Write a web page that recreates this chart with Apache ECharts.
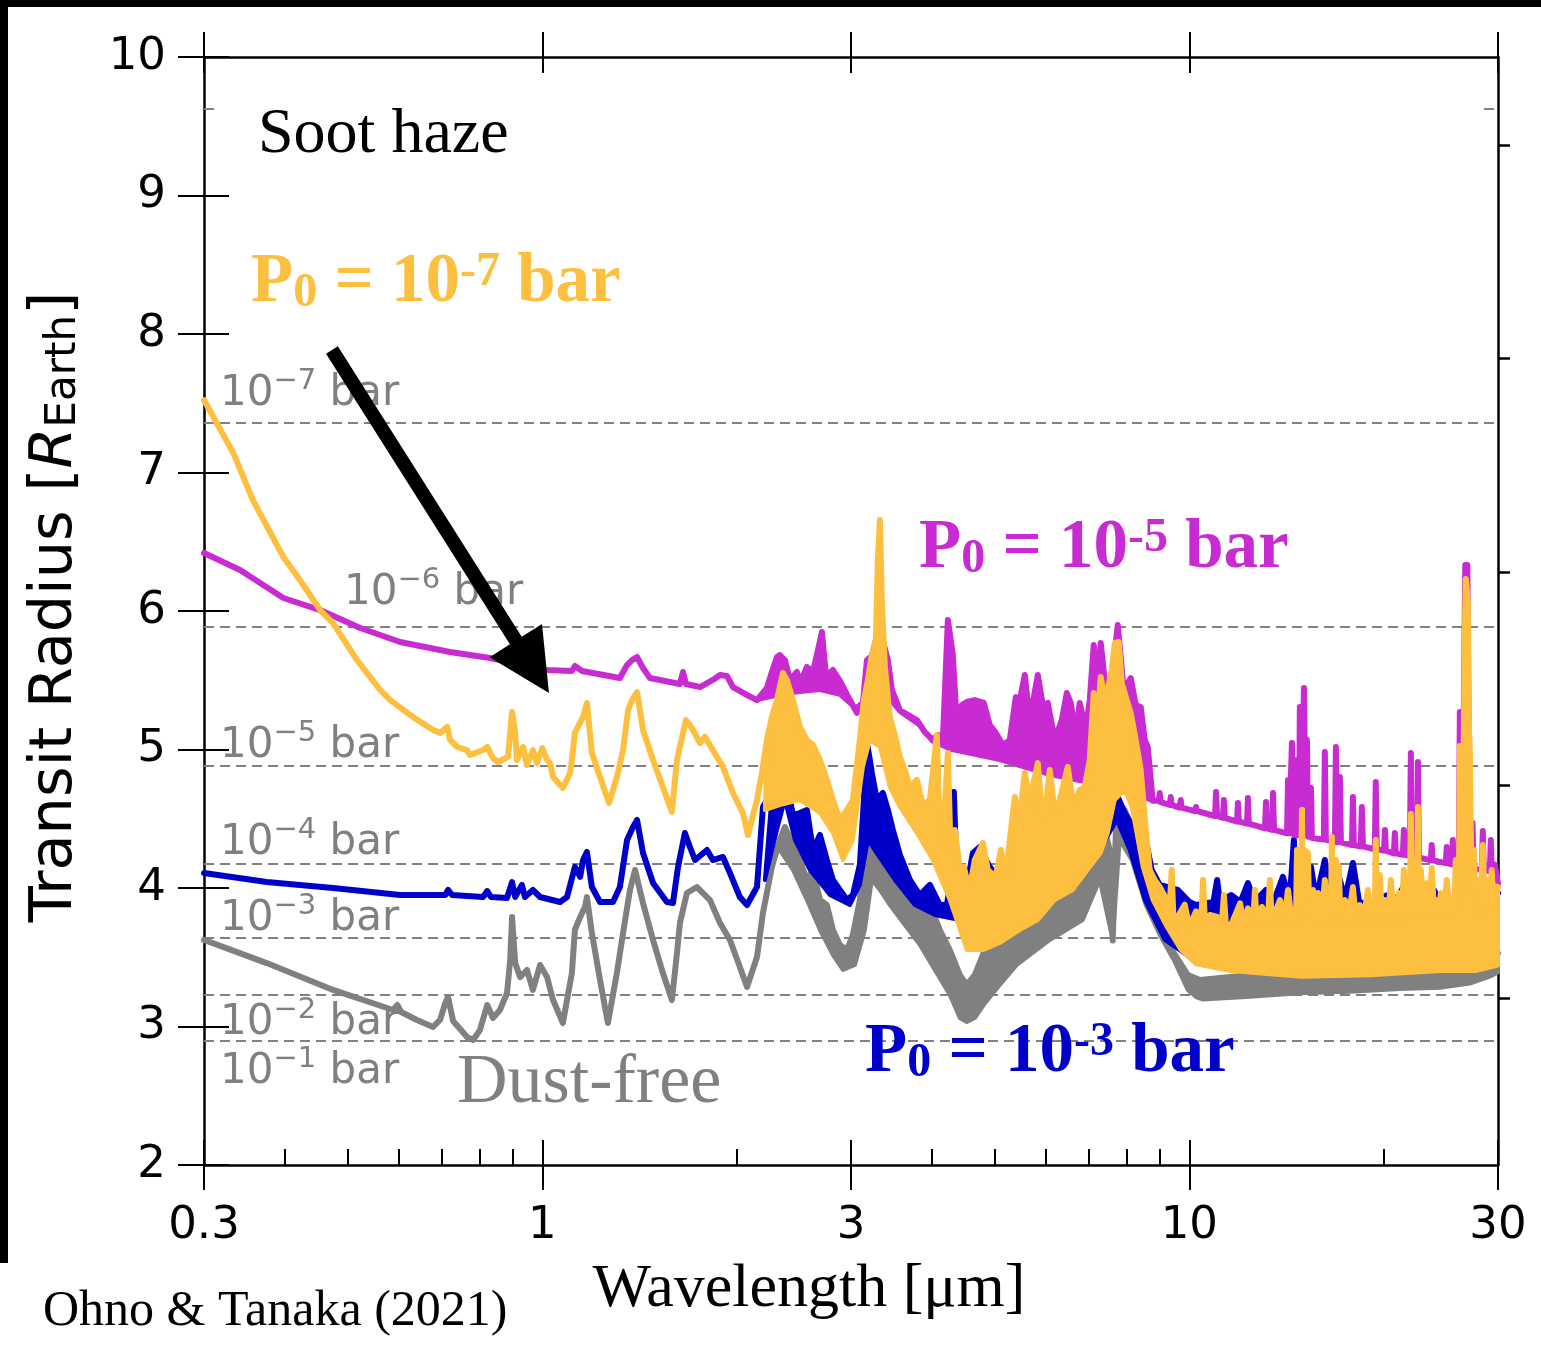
<!DOCTYPE html>
<html>
<head>
<meta charset="utf-8">
<script src="https://cdn.jsdelivr.net/npm/echarts@6/dist/echarts.min.js"></script>
<style>
  html, body { margin: 0; padding: 0; background: #fff; }
  #chart { width: 1541px; height: 1346px; }
</style>
</head>
<body>
<div id="chart"></div>
<script>
// ---- axis ticks ----
const xMajorTicks = [0.3, 1, 3, 10, 30];
const xMajorLabels = ['0.3', '1', '3', '10', '30'];
const xMinorTicks = [0.4, 0.5, 0.6, 0.7, 0.8, 0.9, 2, 4, 5, 6, 7, 8, 9, 20];
const yRange = [2, 10];
// right-hand axis: 2, 3, 4, 5, 6 x 10^4 km expressed in Earth radii
const rightTicks = [3.201, 4.739, 6.278, 7.827, 9.360];

// ---- transit radius reached at each atmospheric pressure ----
const pressureRadius = [9.625, 7.357, 5.885, 4.881, 4.173, 3.639, 3.227, 2.895];
const pressureExp = ['−8', '−7', '−6', '−5', '−4', '−3', '−2', '−1'];

// ---- spectra: [wavelength (um), transit radius (R_Earth)] ----
// Dust-free atmosphere
const dustFree = [[0.300,3.625],[0.375,3.458],[0.475,3.264],[0.588,3.119],[0.597,3.155],[0.605,3.105],[0.640,3.047],[0.678,2.997],[0.695,3.047],[0.708,3.169],[0.715,3.213],[0.728,3.040],[0.765,2.924],[0.782,2.903],[0.801,2.975],[0.822,3.155],[0.839,3.062],[0.860,3.119],[0.882,3.242],[0.892,3.480],[0.898,3.790],[0.908,3.458],[0.924,3.357],[0.947,3.408],[0.967,3.264],[0.992,3.444],[1.017,3.357],[1.039,3.191],[1.076,3.025],[1.111,3.386],[1.123,3.697],[1.144,3.790],[1.164,3.862],[1.172,3.934],[1.193,3.675],[1.228,3.336],[1.263,3.025],[1.304,3.386],[1.333,3.675],[1.366,3.985],[1.391,4.130],[1.431,3.891],[1.483,3.625],[1.536,3.386],[1.586,3.191],[1.615,3.531],[1.632,3.747],[1.673,3.964],[1.734,4.007],[1.816,3.913],[1.882,3.747],[1.950,3.625],[2.020,3.430],[2.072,3.285],[2.147,3.502],[2.193,3.820],[2.264,4.152],[2.329,4.347],[2.371,4.440],[2.440,4.310],[2.501,4.202],[2.564,4.058],[2.620,4.130],[2.686,3.913],[2.753,3.877],[2.813,3.697],[2.884,3.588],[2.957,3.552],[3.020,3.661],[3.096,3.913],[3.152,4.202],[3.208,4.347],[3.289,4.469],[3.360,4.419],[3.445,4.274],[3.570,4.202],[3.699,4.058],[3.833,3.913],[3.972,3.877],[4.115,3.697],[4.264,3.552],[4.419,3.372],[4.531,3.300],[4.661,3.372],[4.830,3.552],[5.094,3.661],[5.470,3.769],[5.873,3.877],[6.306,3.913],[6.771,3.986],[7.143,4.202],[7.401,4.419],[7.534,4.274],[7.615,3.621],[7.724,4.635],[7.947,4.563],[8.147,4.441],[8.353,4.253],[8.564,4.007],[9.000,3.769],[9.460,3.531],[9.944,3.372],[10.39,3.336],[12.41,3.372],[14.82,3.408],[17.71,3.444],[21.15,3.480],[25.27,3.528],[28.12,3.552],[30.0,3.528]];
const dustFreeFloor = [[2.329,4.274],[2.440,4.130],[2.564,3.913],[2.686,3.697],[2.813,3.516],[2.915,3.408],[3.042,3.444],[3.152,3.697],[3.231,4.058],[3.325,3.986],[3.445,3.877],[3.634,3.733],[3.833,3.589],[4.043,3.408],[4.264,3.227],[4.419,3.061],[4.531,3.032],[4.661,3.061],[4.830,3.167],[5.094,3.300],[5.412,3.444],[6.086,3.625],[6.844,3.769],[7.271,4.058],[7.615,3.621],[7.807,4.347],[8.147,4.202],[8.564,3.877],[9.000,3.661],[9.460,3.480],[9.944,3.264],[10.24,3.213],[10.50,3.195],[12.41,3.215],[14.82,3.240],[17.71,3.250],[21.15,3.270],[24.39,3.280],[27.13,3.310],[29.13,3.360],[30.0,3.390]];

// Soot haze produced at P0 = 1e-3 bar
const hazeP3 = [[0.300,4.108],[0.375,4.043],[0.475,4.000],[0.603,3.950],[0.708,3.950],[0.715,3.986],[0.725,3.950],[0.810,3.935],[0.822,3.978],[0.833,3.935],[0.882,3.928],[0.898,4.043],[0.908,3.935],[0.930,4.022],[0.940,3.935],[0.967,3.986],[0.992,3.935],[1.065,3.899],[1.092,3.935],[1.123,4.152],[1.144,4.080],[1.156,4.202],[1.172,4.260],[1.193,4.007],[1.228,3.899],[1.286,3.899],[1.318,4.007],[1.352,4.347],[1.381,4.441],[1.401,4.491],[1.431,4.253],[1.483,4.036],[1.558,3.899],[1.592,3.892],[1.621,4.152],[1.661,4.397],[1.691,4.296],[1.722,4.202],[1.797,4.274],[1.835,4.202],[1.902,4.224],[1.950,4.108],[2.020,3.935],[2.072,3.877],[2.147,4.007],[2.193,4.585],[2.264,4.686],[2.305,4.830],[2.354,4.996],[2.397,4.708],[2.440,4.527],[2.501,4.541],[2.564,4.563],[2.620,4.274],[2.686,4.383],[2.753,4.202],[2.813,4.058],[2.884,3.986],[2.957,3.913],[3.020,3.949],[3.096,4.166],[3.141,4.635],[3.175,5.047],[3.208,4.924],[3.231,4.830],[3.289,4.635],[3.360,4.686],[3.421,4.563],[3.482,4.419],[3.570,4.239],[3.699,4.058],[3.833,3.949],[3.972,4.022],[4.115,3.877],[4.220,3.877],[4.280,4.058],[4.326,4.694],[4.372,4.058],[4.466,3.913],[4.579,4.130],[4.628,4.253],[4.745,4.296],[4.847,4.202],[4.916,4.152],[5.094,4.058],[5.279,3.986],[5.549,3.949],[5.832,4.058],[6.195,4.022],[6.676,4.022],[7.017,4.274],[7.117,4.397],[7.401,4.563],[7.669,4.708],[7.947,4.541],[8.235,4.419],[8.564,4.347],[8.748,4.130],[9.000,4.022],[9.596,3.986],[10.00,3.900],[10.24,3.877],[10.90,3.900],[11.04,4.058],[11.15,3.900],[11.60,3.949],[12.00,3.900],[12.32,4.036],[12.60,3.900],[13.14,3.986],[13.50,3.900],[13.95,4.080],[14.30,3.920],[14.51,4.347],[14.62,3.920],[14.82,4.130],[15.10,3.920],[15.42,4.152],[15.70,3.920],[16.20,4.202],[16.50,3.920],[17.09,4.058],[17.40,3.920],[17.90,4.181],[18.30,3.900],[19.08,3.877],[19.60,3.920],[20.27,3.949],[20.90,3.920],[21.61,4.036],[22.10,3.920],[22.71,3.949],[23.30,3.920],[23.87,3.986],[24.50,3.880],[25.09,3.841],[25.60,3.920],[26.19,3.949],[27.00,3.900],[27.72,3.913],[29.00,3.920],[30.0,3.964]];
const hazeP3Floor = [[2.208,4.058],[2.305,4.419],[2.371,4.635],[2.457,4.347],[2.592,4.130],[2.783,3.949],[2.988,3.877],[3.096,4.022],[3.186,4.347],[3.301,4.239],[3.507,4.058],[3.765,3.877],[4.043,3.805],[4.419,3.769],[4.916,3.827],[5.470,3.877],[6.086,3.913],[6.771,4.058],[7.271,4.274],[7.724,4.491],[8.089,4.274],[8.533,3.913],[9.162,3.625],[10.02,3.500],[11.15,3.480],[14.82,3.480],[21.15,3.480],[30.0,3.500]];

// Soot haze produced at P0 = 1e-5 bar
const hazeP5 = [[0.300,6.419],[0.341,6.296],[0.398,6.094],[0.4535,6.007],[0.523,5.877],[0.603,5.776],[0.720,5.704],[0.830,5.661],[1.017,5.574],[1.111,5.567],[1.123,5.603],[1.152,5.567],[1.318,5.516],[1.352,5.610],[1.376,5.646],[1.401,5.668],[1.431,5.588],[1.467,5.516],[1.632,5.473],[1.650,5.560],[1.667,5.473],[1.753,5.451],[1.835,5.502],[1.882,5.538],[1.929,5.531],[1.971,5.451],[2.057,5.401],[2.147,5.357],[2.224,5.444],[2.264,5.560],[2.305,5.668],[2.329,5.682],[2.371,5.646],[2.414,5.502],[2.475,5.560],[2.501,5.473],[2.564,5.596],[2.620,5.560],[2.667,5.718],[2.705,5.848],[2.744,5.531],[2.813,5.574],[2.884,5.495],[2.988,5.357],[3.064,5.265],[3.130,5.336],[3.175,5.646],[3.231,5.675],[3.278,5.791],[3.325,5.884],[3.372,5.754],[3.421,5.646],[3.470,5.430],[3.570,5.285],[3.699,5.242],[3.792,5.213],[3.902,5.126],[4.014,5.069],[4.087,5.105],[4.160,5.069],[4.235,5.935],[4.310,5.682],[4.388,5.069],[4.450,5.321],[4.531,5.343],[4.661,5.357],[4.813,5.336],[4.916,5.177],[5.023,5.120],[5.149,5.032],[5.279,5.069],[5.393,5.379],[5.470,5.357],[5.568,5.538],[5.668,5.213],[5.832,5.538],[5.937,5.321],[6.043,5.336],[6.195,5.069],[6.352,5.213],[6.466,5.408],[6.558,5.336],[6.676,5.105],[6.771,5.336],[6.918,5.141],[7.017,5.357],[7.117,5.754],[7.220,5.430],[7.297,5.769],[7.428,5.430],[7.588,5.502],[7.752,5.899],[7.919,5.430],[8.118,5.516],[8.264,5.321],[8.412,5.307],[8.533,5.069],[8.625,5.018],[8.779,4.630],[8.970,4.630],[9.000,4.686],[9.030,4.620],[9.330,4.600],[9.360,4.657],[9.390,4.600],[9.660,4.580],[9.700,4.635],[9.730,4.580],[10.20,4.555],[10.24,4.585],[10.28,4.555],[10.96,4.520],[11.00,4.693],[11.04,4.520],[11.27,4.507],[11.31,4.635],[11.35,4.507],[11.85,4.480],[11.89,4.614],[11.93,4.480],[12.28,4.465],[12.32,4.650],[12.36,4.465],[13.09,4.430],[13.14,4.621],[13.18,4.430],[13.42,4.420],[13.47,4.686],[13.52,4.420],[14.16,4.395],[14.21,4.780],[14.26,4.395],[14.36,4.390],[14.41,5.047],[14.46,4.390],[14.62,4.380],[14.67,4.924],[14.72,4.380],[14.78,4.500],[14.82,5.307],[14.90,4.600],[15.04,5.444],[15.12,4.600],[15.20,5.069],[15.26,4.370],[15.38,4.370],[15.42,4.722],[15.47,4.360],[16.14,4.350],[16.20,4.982],[16.26,4.350],[16.79,4.330],[16.85,5.018],[16.91,4.330],[17.03,4.330],[17.09,4.801],[17.15,4.330],[17.84,4.310],[17.90,4.657],[17.96,4.310],[18.41,4.300],[18.48,4.585],[18.55,4.300],[19.35,4.280],[19.42,4.765],[19.49,4.280],[19.99,4.270],[20.06,4.419],[20.13,4.270],[20.71,4.250],[20.78,4.397],[20.85,4.250],[21.38,4.240],[21.46,4.419],[21.54,4.240],[21.92,4.230],[22.00,4.975],[22.08,4.230],[22.48,4.220],[22.56,4.910],[22.64,4.220],[23.62,4.200],[23.70,4.310],[23.78,4.200],[24.91,4.180],[25.00,4.296],[25.09,4.180],[25.45,4.170],[25.54,4.347],[25.63,4.170],[26.10,4.160],[26.19,5.271],[26.56,5.271],[26.70,6.332],[26.90,6.332],[27.04,5.000],[27.13,4.150],[27.30,4.140],[27.40,4.470],[27.50,4.140],[28.33,4.130],[28.42,4.411],[28.52,4.130],[29.14,4.120],[29.24,4.347],[29.34,4.120],[29.66,4.169],[30.0,4.030]];
const hazeP5Floor = [[2.147,5.357],[2.329,5.394],[2.501,5.415],[2.686,5.430],[2.884,5.394],[3.042,5.300],[3.152,5.357],[3.231,5.560],[3.325,5.502],[3.445,5.357],[3.570,5.271],[3.833,5.170],[4.000,5.060],[4.264,5.000],[5.094,4.924],[6.086,4.816],[7.271,4.744],[8.686,4.635]];

// Soot haze produced at P0 = 1e-7 bar
const hazeP7 = [[0.300,7.523],[0.333,7.141],[0.357,6.801],[0.398,6.390],[0.422,6.224],[0.4535,6.007],[0.475,5.913],[0.517,5.646],[0.5615,5.430],[0.582,5.357],[0.631,5.235],[0.678,5.141],[0.695,5.120],[0.713,5.163],[0.720,5.069],[0.739,5.018],[0.765,4.996],[0.773,4.960],[0.810,4.996],[0.822,5.018],[0.839,4.938],[0.854,4.910],[0.885,4.946],[0.898,5.271],[0.908,5.120],[0.914,4.924],[0.934,5.018],[0.947,4.888],[0.967,4.996],[0.981,4.902],[1.000,5.011],[1.017,4.924],[1.028,4.902],[1.039,4.801],[1.076,4.722],[1.104,4.830],[1.111,4.924],[1.123,5.120],[1.156,5.235],[1.172,5.336],[1.193,4.975],[1.228,4.801],[1.268,4.614],[1.304,4.801],[1.333,4.996],[1.357,5.285],[1.376,5.357],[1.401,5.415],[1.431,5.141],[1.483,4.924],[1.536,4.729],[1.586,4.549],[1.615,4.924],[1.650,5.120],[1.667,5.213],[1.703,5.155],[1.753,5.047],[1.784,5.091],[1.835,4.996],[1.902,4.874],[1.971,4.686],[2.042,4.541],[2.079,4.383],[2.147,4.635],[2.185,4.830],[2.224,5.069],[2.264,5.235],[2.305,5.357],[2.354,5.552],[2.388,5.502],[2.440,5.357],[2.501,5.162],[2.564,5.069],[2.620,5.033],[2.686,4.924],[2.753,4.780],[2.813,4.635],[2.884,4.491],[2.957,4.563],[3.020,4.635],[3.096,5.069],[3.141,5.357],[3.186,5.502],[3.231,5.682],[3.278,5.791],[3.301,6.368],[3.325,6.657],[3.348,6.079],[3.384,5.596],[3.445,5.235],[3.507,5.106],[3.570,4.946],[3.634,4.852],[3.699,4.729],[3.792,4.780],[3.874,4.599],[3.972,4.635],[4.072,5.105],[4.115,4.419],[4.160,4.347],[4.235,4.975],[4.280,4.202],[4.341,4.419],[4.419,4.130],[4.482,4.152],[4.531,4.058],[4.595,4.036],[4.661,4.202],[4.796,4.325],[4.882,4.130],[5.023,4.080],[5.113,4.274],[5.205,4.080],[5.279,4.347],[5.374,4.657],[5.470,4.491],[5.568,4.830],[5.668,4.635],[5.832,4.902],[5.915,4.563],[5.979,4.513],[6.086,4.852],[6.195,4.541],[6.306,4.635],[6.489,4.874],[6.582,4.671],[6.676,4.635],[6.771,4.708],[6.893,4.729],[7.017,4.924],[7.117,5.408],[7.220,5.213],[7.297,5.523],[7.401,5.357],[7.481,5.430],[7.588,5.574],[7.669,5.769],[7.780,5.776],[7.862,5.480],[8.004,5.357],[8.118,5.264],[8.264,5.069],[8.412,4.852],[8.564,4.419],[8.686,4.130],[8.842,4.058],[9.000,4.007],[9.228,3.913],[9.300,3.750],[9.393,4.130],[9.460,3.720],[9.596,3.791],[9.838,3.880],[10.00,3.720],[10.24,3.831],[10.43,3.750],[10.50,4.058],[10.57,3.760],[10.76,3.805],[11.04,3.791],[11.23,3.750],[11.31,3.949],[11.39,3.740],[11.60,3.730],[11.98,3.889],[12.15,3.740],[12.32,3.853],[12.55,3.740],[12.63,3.986],[12.71,3.740],[12.95,3.863],[13.23,3.760],[13.32,4.058],[13.41,3.760],[13.81,3.913],[14.00,3.750],[14.21,3.986],[14.40,3.760],[14.62,3.780],[14.67,4.274],[14.72,3.800],[14.88,3.850],[14.93,4.563],[14.98,3.900],[15.09,4.274],[15.17,4.000],[15.25,4.253],[15.33,3.800],[15.53,3.986],[15.65,3.760],[15.81,3.964],[16.00,3.760],[16.20,4.058],[16.38,3.760],[16.55,3.800],[16.61,4.368],[16.67,3.800],[16.85,4.202],[16.95,3.800],[17.03,4.152],[17.12,3.780],[17.40,3.913],[17.60,3.760],[17.90,4.007],[18.10,3.770],[18.35,3.877],[18.60,3.770],[18.88,3.986],[19.10,3.780],[19.35,3.800],[19.42,4.347],[19.49,3.800],[19.70,4.094],[19.85,3.780],[20.06,3.913],[20.30,3.780],[20.49,4.058],[20.70,3.780],[21.08,3.964],[21.30,3.780],[21.46,4.130],[21.65,3.800],[21.92,3.820],[22.00,4.534],[22.08,3.820],[22.24,4.058],[22.40,3.820],[22.48,3.850],[22.56,4.585],[22.64,3.850],[22.80,4.130],[23.00,3.800],[23.29,4.036],[23.50,3.800],[23.70,4.145],[23.90,3.800],[24.05,3.913],[24.25,3.800],[24.48,3.964],[24.75,3.800],[25.00,4.058],[25.25,3.800],[25.45,3.913],[25.65,3.820],[25.82,4.202],[26.00,3.850],[26.10,3.900],[26.19,5.026],[26.56,5.026],[26.65,5.800],[26.75,6.231],[26.94,6.079],[27.04,5.200],[27.13,5.018],[27.30,4.000],[27.52,4.274],[27.70,3.850],[27.92,4.058],[28.20,3.820],[28.42,4.310],[28.60,3.850],[28.83,4.058],[29.10,3.850],[29.34,4.130],[29.50,3.880],[29.66,4.014],[30.0,4.007]];
const hazeP7Floor = [[2.208,4.563],[2.329,4.599],[2.501,4.635],[2.686,4.542],[2.813,4.397],[2.915,4.202],[3.020,4.347],[3.130,4.874],[3.208,5.069],[3.325,5.018],[3.445,4.729],[3.570,4.585],[3.792,4.397],[4.014,4.202],[4.264,3.913],[4.531,3.552],[4.796,3.552],[5.094,3.603],[5.470,3.697],[5.832,3.769],[6.195,3.913],[6.605,3.986],[7.017,4.152],[7.297,4.253],[7.481,4.397],[7.669,4.635],[7.947,4.708],[8.147,4.585],[8.472,4.152],[8.779,3.913],[9.228,3.718],[9.698,3.552],[10.24,3.450],[11.60,3.400],[14.88,3.360],[19.08,3.370],[24.48,3.400],[27.72,3.400],[30.0,3.440]];

// annotation arrow (tail -> tip) in data units
const arrowTail = [0.473, 7.884];
const arrowTip = [1.024, 5.408];

const COLORS = { dust: '#808080', p3: '#0000c8', p5: '#c92bd2', p7: '#fdbf3f' };
const SANS = 'DejaVu Sans';
const SERIF = 'Liberation Serif';

const chart = echarts.init(document.getElementById('chart'), null, { renderer: 'canvas' });

function lineSeries(data, color, z) {
  return {
    type: 'line', data, z, xAxisIndex: 0, yAxisIndex: 0,
    symbol: 'none', showSymbol: false, silent: true,
    lineStyle: { color, width: 6, join: 'round', cap: 'round' }
  };
}

// filled region between the spectrum and its lower envelope (dense line forest)
function bandSeries(upper, floor, color, z) {
  const lo = floor[0][0], hi = floor[floor.length - 1][0];
  const top = upper.filter(p => p[0] >= lo && p[0] <= hi);
  return {
    type: 'custom', z, xAxisIndex: 0, yAxisIndex: 0, silent: true,
    data: [[lo, floor[0][1]]],
    renderItem: (params, api) => {
      const pts = top.concat(floor.slice().reverse()).map(p => api.coord(p));
      return {
        type: 'polygon', shape: { points: pts },
        style: { fill: color, stroke: color, lineWidth: 4, lineJoin: 'round' }
      };
    }
  };
}

const pressureSeries = pressureRadius.map(r => ({
  type: 'line', data: [[xMajorTicks[0], r], [xMajorTicks[xMajorTicks.length - 1], r]],
  z: 1, xAxisIndex: 0, yAxisIndex: 0, symbol: 'none', silent: true,
  lineStyle: { color: '#808080', width: 2, type: [10, 6] }
}));

function xAxisCommon(position) {
  return {
    type: 'log', logBase: 10, min: xMajorTicks[0], max: xMajorTicks[xMajorTicks.length - 1],
    position, splitLine: { show: false }, minorTick: { show: false }, minorSplitLine: { show: false },
    axisLine: { show: false, onZero: false }, axisLabel: { show: false }
  };
}
const tickStyle = { color: '#000', width: 2 };

const xAxes = [
  Object.assign(xAxisCommon('bottom'), {
    axisLine: { show: true, onZero: false, lineStyle: { color: '#000', width: 2.5 } },
    axisTick: { show: true, inside: false, length: 25, customValues: xMajorTicks, lineStyle: tickStyle },
    axisLabel: {
      show: true, customValues: xMajorTicks, margin: 39, fontSize: 45, fontFamily: SANS, color: '#000',
      formatter: v => {
        const i = xMajorTicks.findIndex(t => Math.abs(v - t) / t < 1e-6);
        return i >= 0 ? xMajorLabels[i] : '';
      }
    }
  }),
  Object.assign(xAxisCommon('bottom'), {
    axisTick: { show: true, inside: true, length: 25, customValues: xMajorTicks, lineStyle: tickStyle }
  }),
  Object.assign(xAxisCommon('bottom'), {
    axisTick: { show: true, inside: true, length: 16, customValues: xMinorTicks, lineStyle: tickStyle }
  }),
  Object.assign(xAxisCommon('top'), {
    axisLine: { show: true, onZero: false, lineStyle: { color: '#000', width: 2.5 } },
    axisTick: { show: true, inside: false, length: 25, customValues: xMajorTicks, lineStyle: tickStyle }
  }),
  Object.assign(xAxisCommon('top'), {
    axisTick: { show: true, inside: true, length: 16, customValues: xMajorTicks, lineStyle: tickStyle }
  })
];

const yAxes = [
  {
    type: 'value', min: yRange[0], max: yRange[1], interval: 1, position: 'left',
    splitLine: { show: false },
    axisLine: { show: true, onZero: false, lineStyle: { color: '#000', width: 2.5 } },
    axisTick: { show: true, inside: false, length: 26, lineStyle: tickStyle },
    axisLabel: { margin: 38, fontSize: 45, fontFamily: SANS, color: '#000' }
  },
  {
    type: 'value', min: yRange[0], max: yRange[1], interval: 1, position: 'left',
    splitLine: { show: false }, axisLine: { show: false },
    axisTick: { show: true, inside: true, length: 25, lineStyle: tickStyle },
    axisLabel: { show: false }
  },
  {
    type: 'value', min: yRange[0], max: yRange[1], position: 'right',
    splitLine: { show: false },
    axisLine: { show: true, onZero: false, lineStyle: { color: '#000', width: 2.5 } },
    axisTick: { show: true, inside: false, length: 12, customValues: rightTicks, lineStyle: { color: '#000', width: 2.5 } },
    axisLabel: { show: false }
  }
];

chart.setOption({
  animation: false,
  backgroundColor: '#fff',
  grid: { left: 204, right: 43, top: 57, bottom: 181, containLabel: false },
  xAxis: xAxes,
  yAxis: yAxes,
  series: [
    ...pressureSeries,
    bandSeries(dustFree, dustFreeFloor, COLORS.dust, 3),
    lineSeries(dustFree, COLORS.dust, 3),
    bandSeries(hazeP3, hazeP3Floor, COLORS.p3, 4),
    lineSeries(hazeP3, COLORS.p3, 4),
    bandSeries(hazeP5, hazeP5Floor, COLORS.p5, 5),
    lineSeries(hazeP5, COLORS.p5, 5),
    bandSeries(hazeP7, hazeP7Floor, COLORS.p7, 6),
    lineSeries(hazeP7, COLORS.p7, 6)
  ]
});

// ---- annotations ----
function pressureLabel(x, y, exp) {
  return {
    type: 'text', x, y, z: 2,
    style: {
      text: '{n|10}{s|' + exp + '}{n| bar}',
      align: 'left', verticalAlign: 'middle',
      rich: {
        n: { fontFamily: SANS, fontSize: 42, lineHeight: 54, fill: '#808080' },
        s: { fontFamily: SANS, fontSize: 29, lineHeight: 29, verticalAlign: 'top', fill: '#808080' }
      }
    }
  };
}

function p0Label(x, y, exp, color) {
  const base = { fontFamily: SERIF, fontWeight: 'bold', fill: color };
  return {
    type: 'text', x, y, z: 9,
    style: {
      text: '{m|P}{d|0}{m| = 10}{u|' + exp + '}{m| bar}',
      align: 'left', verticalAlign: 'middle',
      rich: {
        m: Object.assign({ fontSize: 69, lineHeight: 69 }, base),
        d: Object.assign({ fontSize: 48, lineHeight: 48, verticalAlign: 'bottom' }, base),
        u: Object.assign({ fontSize: 48, lineHeight: 54, verticalAlign: 'top' }, base)
      }
    }
  };
}

function arrowPoints() {
  const a = chart.convertToPixel({ xAxisIndex: 0, yAxisIndex: 0 }, arrowTail);
  const b = chart.convertToPixel({ xAxisIndex: 0, yAxisIndex: 0 }, arrowTip);
  const dx = b[0] - a[0], dy = b[1] - a[1], L = Math.hypot(dx, dy);
  const ux = dx / L, uy = dy / L, px = -uy, py = ux;
  const headLen = 62, headHalf = 31, shaftHalf = 7;
  const bx = b[0] - ux * headLen, by = b[1] - uy * headLen;
  return [
    [a[0] + px * shaftHalf, a[1] + py * shaftHalf],
    [bx + px * shaftHalf, by + py * shaftHalf],
    [bx + px * headHalf, by + py * headHalf],
    [b[0], b[1]],
    [bx - px * headHalf, by - py * headHalf],
    [bx - px * shaftHalf, by - py * shaftHalf],
    [a[0] - px * shaftHalf, a[1] - py * shaftHalf]
  ];
}

const labelX = [224, 224, 348, 224, 224, 224, 224, 224];
const labelY = [null, 394, 593, 746, 843, 919, 1023, 1072];
const pressureLabels = [];
for (let i = 1; i < pressureExp.length; i++) {
  pressureLabels.push(pressureLabel(labelX[i] - 4, labelY[i], pressureExp[i]));
}

chart.setOption({
  graphic: [
    // frame strips along the top and left edges
    { type: 'rect', z: 50, shape: { x: 0, y: 0, width: 1541, height: 7 }, style: { fill: '#000' } },
    { type: 'rect', z: 50, shape: { x: 0, y: 0, width: 8, height: 1263 }, style: { fill: '#000' } },
    // white panel behind the "Soot haze" caption
    { type: 'rect', z: 1.5, shape: { x: 219, y: 98, width: 1262, height: 22 }, style: { fill: '#fff' } },
    ...pressureLabels,
    {
      type: 'text', x: 258, y: 135, z: 9,
      style: { text: 'Soot haze', font: '64px "Liberation Serif"', fill: '#000', align: 'left', verticalAlign: 'middle' }
    },
    p0Label(251, 283, '-7', COLORS.p7),
    p0Label(919, 549, '-5', COLORS.p5),
    p0Label(865, 1053, '-3', COLORS.p3),
    {
      type: 'text', x: 457, y: 1084, z: 9,
      style: { text: 'Dust-free', font: '70px "Liberation Serif"', fill: '#808080', align: 'left', verticalAlign: 'middle' }
    },
    {
      type: 'text', x: 809, y: 1290, z: 9,
      style: { text: 'Wavelength [μm]', font: '62px "Liberation Serif"', fill: '#000', align: 'center', verticalAlign: 'middle' }
    },
    {
      type: 'text', x: 43, y: 1312, z: 9,
      style: { text: 'Ohno & Tanaka (2021)', font: '50px "Liberation Serif"', fill: '#000', align: 'left', verticalAlign: 'middle' }
    },
    {
      type: 'text', x: 56, y: 607, z: 9, rotation: Math.PI / 2,
      style: {
        text: '{a|Transit Radius [}{i|R}{e|Earth}{a|]}',
        align: 'center', verticalAlign: 'middle',
        rich: {
          a: { fontFamily: SANS, fontSize: 59, lineHeight: 59, fill: '#000' },
          i: { fontFamily: SANS, fontStyle: 'italic', fontSize: 59, lineHeight: 59, fill: '#000' },
          e: { fontFamily: SANS, fontSize: 42, lineHeight: 42, verticalAlign: 'bottom', fill: '#000' }
        }
      }
    },
    { type: 'polygon', z: 8, shape: { points: arrowPoints() }, style: { fill: '#000' } }
  ]
});
</script>
</body>
</html>
